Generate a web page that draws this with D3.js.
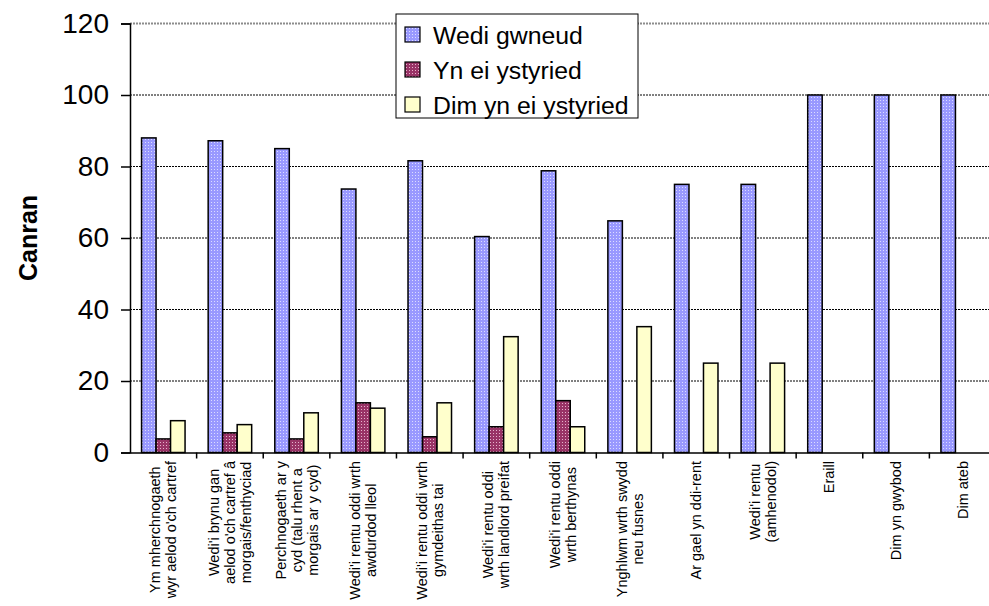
<!DOCTYPE html>
<html>
<head>
<meta charset="utf-8">
<script src="https://cdn.jsdelivr.net/npm/d3@7"></script>
<style>
  html, body { margin: 0; padding: 0; background: #fff; }
  svg { display: block; font-family: "Liberation Sans", Arial, sans-serif; }
</style>
</head>
<body>
<svg id="chart" width="989" height="606"></svg>
<script>
// ---- data ----
const categories = [
  ["Ym mherchnogaeth", "wyr aelod o'ch cartref"],
  ["Wedi'i brynu gan", "aelod o'ch cartref â", "morgais/fenthyciad"],
  ["Perchnogaeth ar y", "cyd (talu rhent a", "morgais ar y cyd)"],
  ["Wedi'i rentu oddi wrth", "awdurdod lleol"],
  ["Wedi'i rentu oddi wrth", "gymdeithas tai"],
  ["Wedi'i rentu oddi", "wrth landlord preifat"],
  ["Wedi'i rentu oddi", "wrth berthynas"],
  ["Ynghlwm wrth swydd", "neu fusnes"],
  ["Ar gael yn ddi-rent"],
  ["Wedi'i rentu", "(amhenodol)"],
  ["Eraill"],
  ["Dim yn gwybod"],
  ["Dim ateb"]
];
const seriesNames = ["Wedi gwneud", "Yn ei ystyried", "Dim yn ei ystyried"];
const wediGwneud      = [88, 87.2, 85, 73.7, 81.6, 60.4, 78.8, 64.8, 75, 75, 100, 100, 100];
const ynEiYstyried    = [3.8, 5.5, 3.8, 13.9, 4.4, 7.2, 14.5, 0, 0, 0, 0, 0, 0];
const dimYnEiYstyried = [8.9, 7.8, 11.1, 12.4, 13.9, 32.4, 7.2, 35.2, 25, 25, 0, 0, 0];
const yTicks = [0, 20, 40, 60, 80, 100, 120];
const yTitle = "Canran";

// ---- layout ----
const svg = d3.select("#chart");
const pLeft = 130, pRight = 996, pTop = 23.5, pBottom = 452.5;

const defs = svg.append("defs");
function dotPattern(id, base, dot) {
  const p = defs.append("pattern").attr("id", id).attr("patternUnits", "userSpaceOnUse")
    .attr("width", 3).attr("height", 3);
  p.append("rect").attr("width", 3).attr("height", 3).attr("fill", base);
  p.append("rect").attr("x", 1).attr("y", 1).attr("width", 1).attr("height", 1).attr("fill", dot);
}
dotPattern("pBlue", "#9999ff", "#dcdcff");
dotPattern("pRed", "#993366", "#e6b3cc");
dotPattern("pYellow", "#ffffcc", "#ffffcc");
const fills = ["url(#pBlue)", "url(#pRed)", "url(#pYellow)"];

const idx = categories.map((d, i) => i);
const x = d3.scaleBand().domain(idx).range([pLeft, pRight]).paddingInner(0.347).paddingOuter(0.1735);
const xs = d3.scaleBand().domain([0, 1, 2]).range([0, x.bandwidth()]);
const xg = d3.scaleBand().domain(idx).range([pLeft, pRight]).padding(0);
const y = d3.scaleLinear().domain([0, 120]).range([pBottom, pTop]);

// gridlines
svg.append("g").selectAll("line").data(yTicks.filter(t => t > 0)).join("line")
  .attr("x1", pLeft).attr("x2", 989)
  .attr("y1", d => y(d)).attr("y2", d => y(d))
  .attr("stroke", d => d === 120 ? "#8c8c8c" : "#000")
  .attr("stroke-width", d => d === 120 ? 2 : 1)
  .attr("stroke-dasharray", "2,1");

// bars
const series = [wediGwneud, ynEiYstyried, dimYnEiYstyried];
series.forEach((vals, s) => {
  svg.append("g").selectAll("rect").data(vals.map((v, i) => ({v, i})).filter(d => d.v > 0)).join("rect")
    .attr("x", d => x(d.i) + xs(s))
    .attr("y", d => y(d.v))
    .attr("width", xs.bandwidth())
    .attr("height", d => y(0) - y(d.v))
    .attr("fill", fills[s])
    .attr("stroke", "#000")
    .attr("stroke-width", 1.5);
});

// y axis
const yAxis = d3.axisLeft(y).tickValues(yTicks).tickSize(9).tickPadding(12);
const gy = svg.append("g").attr("transform", `translate(${pLeft},0)`).call(yAxis);
gy.select(".domain").attr("stroke", "#000").attr("stroke-width", 1.5);
gy.selectAll(".tick line").attr("stroke", "#000").attr("stroke-width", 1.5);
gy.selectAll(".tick text").attr("font-size", 28).attr("fill", "#000")
  .attr("font-family", "'Liberation Sans', Arial, sans-serif");

// x axis
const xAxis = d3.axisBottom(xg).tickValues([]).tickSizeOuter(0);
const gx = svg.append("g").attr("transform", `translate(0,${pBottom})`).call(xAxis);
gx.select(".domain").attr("stroke", "#000").attr("stroke-width", 1.5);
gx.selectAll(".bnd").data(idx.slice(1)).join("line").attr("class", "bnd")
  .attr("x1", d => xg(d)).attr("x2", d => xg(d)).attr("y1", 0).attr("y2", 6)
  .attr("stroke", "#000").attr("stroke-width", 1.5);

// category labels (rotated, lines centered, block top-aligned)
const lineH = 16, labelTop = 461;
categories.forEach((lines, i) => {
  const cx = xg(i) + xg.bandwidth() / 2;
  const g = svg.append("g");
  const texts = lines.map((t, k) => g.append("text").text(t)
    .attr("font-size", 14.5).attr("fill", "#000").attr("text-anchor", "middle"));
  const maxLen = d3.max(texts, t => t.node().getComputedTextLength());
  const cy = labelTop + maxLen / 2;
  const n = lines.length;
  texts.forEach((t, k) => {
    const lx = cx + (k - (n - 1) / 2) * lineH;
    t.attr("transform", `translate(${lx + 5},${cy}) rotate(-90)`);
  });
});

// y title
svg.append("text").text(yTitle)
  .attr("transform", `translate(${37},${y(60)}) rotate(-90)`)
  .attr("text-anchor", "middle")
  .attr("font-size", 25).attr("font-weight", "bold").attr("fill", "#000");

// legend
const lg = svg.append("g");
lg.append("rect").attr("x", 396).attr("y", 14).attr("width", 242).attr("height", 104)
  .attr("fill", "#fff").attr("stroke", "#000").attr("stroke-width", 1);
seriesNames.forEach((name, s) => {
  const cyL = 35 + s * 35;
  lg.append("rect").attr("x", 405).attr("y", cyL - 8).attr("width", 15).attr("height", 15)
    .attr("fill", fills[s]).attr("stroke", "#000").attr("stroke-width", 1.2);
  lg.append("text").text(name).attr("x", 433).attr("y", cyL + 8.5)
    .attr("font-size", 24.8).attr("fill", "#000");
});
</script>
</body>
</html>
